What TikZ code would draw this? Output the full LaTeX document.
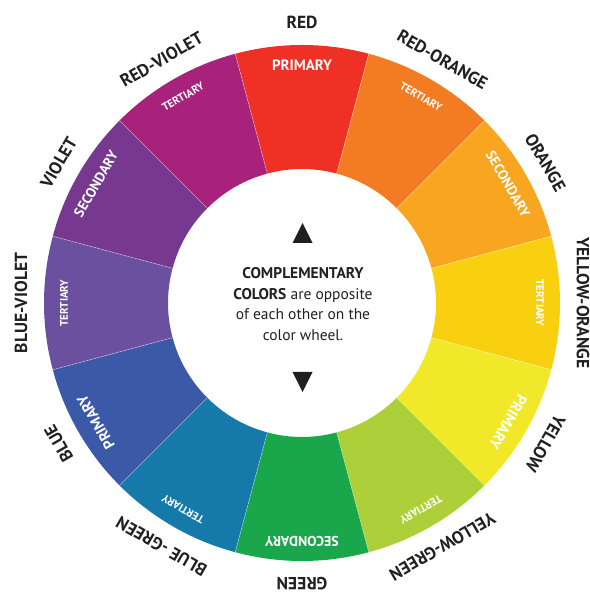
\documentclass[tikz,border=0pt]{standalone}
\usepackage{fontspec}
\setmainfont{PT Sans}
\definecolor{cRed}{HTML}{EE3124}
\definecolor{cRO}{HTML}{F37B22}
\definecolor{cOr}{HTML}{F8A51F}
\definecolor{cYO}{HTML}{F9D00F}
\definecolor{cYe}{HTML}{F1E829}
\definecolor{cYG}{HTML}{ADCF3A}
\definecolor{cGr}{HTML}{1AA64B}
\definecolor{cBG}{HTML}{1579A9}
\definecolor{cBl}{HTML}{3B59A7}
\definecolor{cBV}{HTML}{6A509E}
\definecolor{cVi}{HTML}{76398F}
\definecolor{cRV}{HTML}{A8217A}
\definecolor{ink}{HTML}{231F20}
\tikzset{
  outerlbl/.style={text=ink, font=\bfseries\fontsize{17.5}{20}\selectfont, inner sep=0pt, anchor=center},
  primlbl/.style={text=white, font=\bfseries\fontsize{15}{18}\selectfont, inner sep=0pt, anchor=center},
  seclbl/.style={text=white, font=\bfseries\fontsize{14}{17}\selectfont, inner sep=0pt, anchor=center},
  terlbl/.style={text=white, font=\bfseries\fontsize{11}{13}\selectfont, inner sep=0pt, anchor=center},
  sepline/.style={draw=white, draw opacity=0.45, line width=0.6pt},
  centertext/.style={text=ink, font=\fontsize{15.5}{20.5}\selectfont, align=center, inner sep=0pt}
}
\begin{document}
\begin{tikzpicture}[x=1pt,y=1pt]
\useasboundingbox (0,0) rectangle (589,593);
\begin{scope}[shift={(302,290)}]
\foreach \a/\col [evaluate=\a as \lo using \a-15, evaluate=\a as \hi using \a+15] in
  {90/cRed, 60/cRO, 30/cOr, 0/cYO, -30/cYe, -60/cYG, -90/cGr, -120/cBG, -150/cBl, -180/cBV, -210/cVi, -240/cRV} {
  \fill[\col] (\lo:134) -- (\lo:258) arc[start angle=\lo, end angle=\hi, radius=258]
     -- (\hi:134) arc[start angle=\hi, end angle=\lo, radius=134] -- cycle;
}
\foreach \a [evaluate=\a as \lo using \a-15] in {90,60,...,-240} {
  \draw[sepline] (\lo:134) -- (\lo:258);
}
\foreach \a/\txt [count=\i] in
  {90/RED, 60/RED-ORANGE, 30/ORANGE, 0/YELLOW-ORANGE, -30/YELLOW, -60/YELLOW-GREEN,
   -90/GREEN, -120/BLUE -GREEN, -150/BLUE, -180/BLUE-VIOLET, -210/VIOLET, -240/RED-VIOLET} {
  \node[outerlbl, rotate=\a-90] (L\i) at (\a:281) {\txt};
}
\foreach \a/\sty/\txt [count=\i] in
  {90/primlbl/PRIMARY, 60/terlbl/TERTIARY, 30/seclbl/SECONDARY, 0/terlbl/TERTIARY,
   -30/primlbl/PRIMARY, -60/terlbl/TERTIARY, -90/seclbl/SECONDARY, -120/terlbl/TERTIARY,
   -150/primlbl/PRIMARY, -180/terlbl/TERTIARY, -210/seclbl/SECONDARY, -240/terlbl/TERTIARY} {
  \node[\sty, rotate=\a-90] (K\i) at (\a:238) {\txt};
}
\node[centertext] (center) at (1,-1)
  {\textbf{COMPLEMENTARY}\\\textbf{COLORS} are opposite\\of each other on the\\color wheel.};
\fill[ink] (-9.5,60) -- (10.5,60) -- (0.5,80) -- cycle;
\fill[ink] (-9.5,-69) -- (10.5,-69) -- (0.5,-89) -- cycle;
\end{scope}
\end{tikzpicture}
\end{document}
